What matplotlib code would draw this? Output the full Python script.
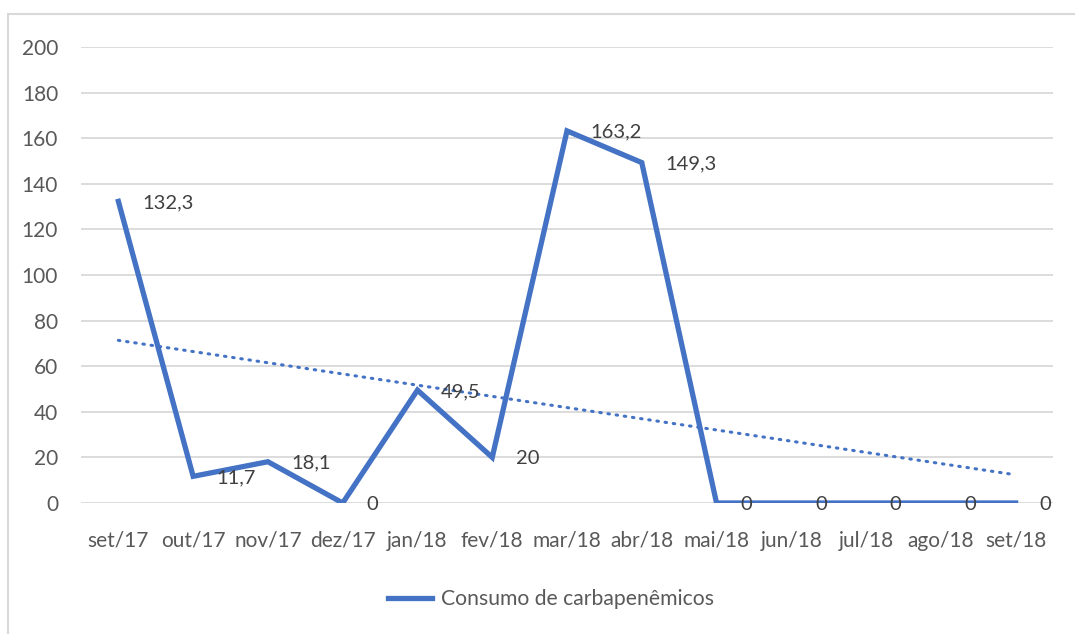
import numpy as np
import matplotlib
matplotlib.use("Agg")
import matplotlib.pyplot as plt
from matplotlib.patches import Rectangle

months = ["set/17", "out/17", "nov/17", "dez/17", "jan/18", "fev/18", "mar/18",
          "abr/18", "mai/18", "jun/18", "jul/18", "ago/18", "set/18"]
consumo = [132.3, 11.7, 18.1, 0, 49.5, 20, 163.2, 149.3, 0, 0, 0, 0, 0]
labels = ["132,3", "11,7", "18,1", "0", "49,5", "20", "163,2", "149,3",
          "0", "0", "0", "0", "0"]
yticks = [0, 20, 40, 60, 80, 100, 120, 140, 160, 180, 200]

plt.rcParams['font.family'] = ['Lato', 'DejaVu Sans']
blue = "#4472C4"

fig = plt.figure(figsize=(10.75, 6.34), dpi=100)
fig.patches.append(Rectangle((8/1075, -0.1), 1.2, 1 - 14/634 + 0.1,
                             transform=fig.transFigure, fill=False,
                             edgecolor="#D9D9D9", linewidth=1.5))
ax = fig.add_axes([81/1075, 1 - 503/634, (1053 - 81)/1075, (503 - 47)/634])

x = np.arange(len(months))
line, = ax.plot(x, consumo, color=blue, linewidth=3.8, solid_joinstyle="miter",
                label="Consumo de carbapenêmicos", zorder=3)

coef = np.polyfit(x, consumo, 1)
ax.plot(x, np.polyval(coef, x), color=blue, linewidth=2.2, linestyle=(0, (0.5, 2.2)),
        dash_capstyle="round", zorder=2)

for xi, yi, lab in zip(x, consumo, labels):
    ax.annotate(lab, (xi, yi), xytext=(17, -1), textcoords="offset points",
                ha="left", va="center", fontsize=14.5, color="#404040", zorder=4)

ax.set_xlim(-0.5, 12.5)
ax.set_ylim(0, 200)
ax.set_yticks(yticks)
ax.set_xticks(x)
ax.set_xticklabels(months)
ax.grid(axis="y", color="#D9D9D9", linewidth=1.3)
ax.set_axisbelow(True)
for s in ax.spines.values():
    s.set_visible(False)
ax.tick_params(axis="both", length=0, labelsize=15, labelcolor="#595959")
ax.tick_params(axis="y", pad=16.5)
ax.tick_params(axis="x", pad=20)

leg = fig.legend(handles=[line], loc="center", bbox_to_anchor=(551/1075, 1 - 599/634),
                 frameon=False, fontsize=15.2, handlelength=2.1, handletextpad=0.4)
for t in leg.get_texts():
    t.set_color("#595959")

fig.savefig("out.png", dpi=100)
